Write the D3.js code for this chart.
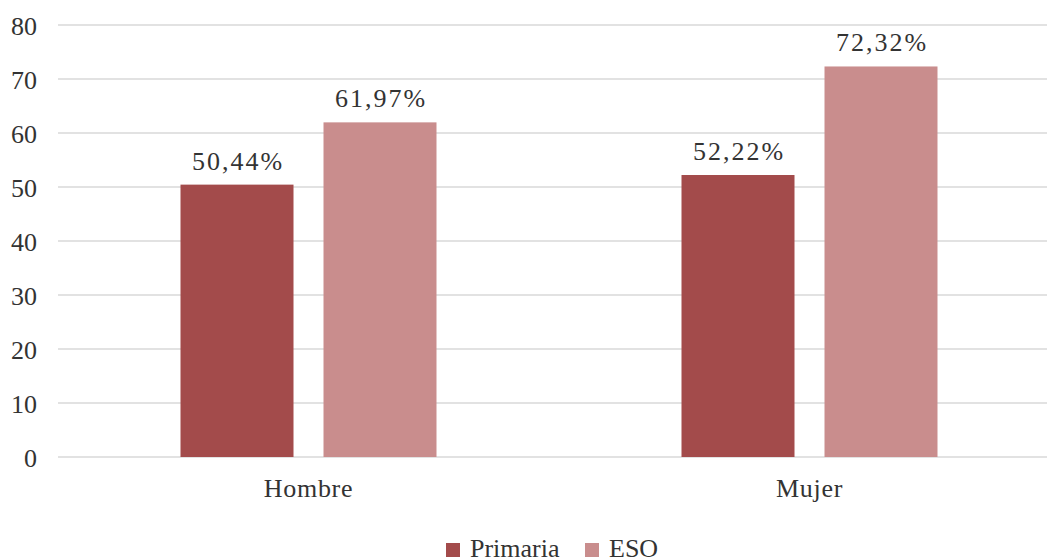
<!DOCTYPE html>
<html><head><meta charset="utf-8"><script src="https://cdn.jsdelivr.net/npm/d3@7"></script></head><body style="margin:0">
<svg width="1047" height="558" id="s"></svg>
<script>
const categories = ["Hombre", "Mujer"];
const seriesNames = ["Primaria", "ESO"];
const primaria = [50.44, 52.22];
const eso = [61.97, 72.32];
const yTicks = [0, 10, 20, 30, 40, 50, 60, 70, 80];
const colors = ["#A34B4B", "#C98D8D"];

(function(){
const svg = d3.select("#s");
const ff = '"Liberation Serif", "Times New Roman", serif';
const textColor = "#333333";
const plotLeft = 58, plotRight = 1060, plotTop = 25, plotBottom = 457;

const x = d3.scaleBand().domain(categories).range([plotLeft, plotRight]).paddingInner(0).paddingOuter(0);
const y = d3.scaleLinear().domain([0, 80]).range([plotBottom, plotTop]);
const barW = 113, gap = 30;
const xs = d3.scaleOrdinal().domain(seriesNames).range([
  x.bandwidth()/2 - gap/2 - barW,
  x.bandwidth()/2 + gap/2
]);

svg.append("g").selectAll("line").data(yTicks).join("line")
  .attr("x1", plotLeft).attr("x2", plotRight)
  .attr("y1", d => y(d)).attr("y2", d => y(d))
  .attr("stroke", "#D9D9D9").attr("stroke-width", 1.5);

yTicks.forEach(d => {
  svg.append("text").attr("x", 37).attr("y", y(d) + 10)
    .attr("text-anchor", "end")
    .style("font-family", ff).attr("font-size", 26).attr("fill", textColor)
    .text(String(d));
});

const data = [];
categories.forEach((c, i) => {
  data.push({cat: c, s: "Primaria", v: primaria[i], col: colors[0]});
  data.push({cat: c, s: "ESO", v: eso[i], col: colors[1]});
});

svg.append("g").selectAll("rect").data(data).join("rect")
  .attr("x", d => x(d.cat) + xs(d.s))
  .attr("width", barW)
  .attr("y", d => y(d.v))
  .attr("height", d => y(0) - y(d.v))
  .attr("fill", d => d.col);

data.forEach(d => {
  svg.append("text")
    .attr("x", x(d.cat) + xs(d.s) + barW/2 + 1)
    .attr("y", y(d.v) - 15)
    .attr("text-anchor", "middle")
    .style("font-family", ff).attr("font-size", 26).attr("fill", textColor)
    .style("letter-spacing", "2px")
    .text(d.v.toFixed(2).replace(".", ",") + "%");
});

categories.forEach(c => {
  svg.append("text")
    .attr("x", x(c) + x.bandwidth()/2)
    .attr("y", 497)
    .attr("text-anchor", "middle")
    .style("font-family", ff).attr("font-size", 26).attr("fill", textColor)
    .style("letter-spacing", "0.7px")
    .text(c);
});

const legX = [446, 585];
seriesNames.forEach((n, i) => {
  svg.append("rect").attr("x", legX[i]).attr("y", 543).attr("width", 14).attr("height", 14)
    .attr("fill", colors[i]);
  svg.append("text").attr("x", legX[i] + 24).attr("y", 557)
    .style("font-family", ff).attr("font-size", 26).attr("fill", textColor)
    .text(n);
});
})();
</script></body></html>
